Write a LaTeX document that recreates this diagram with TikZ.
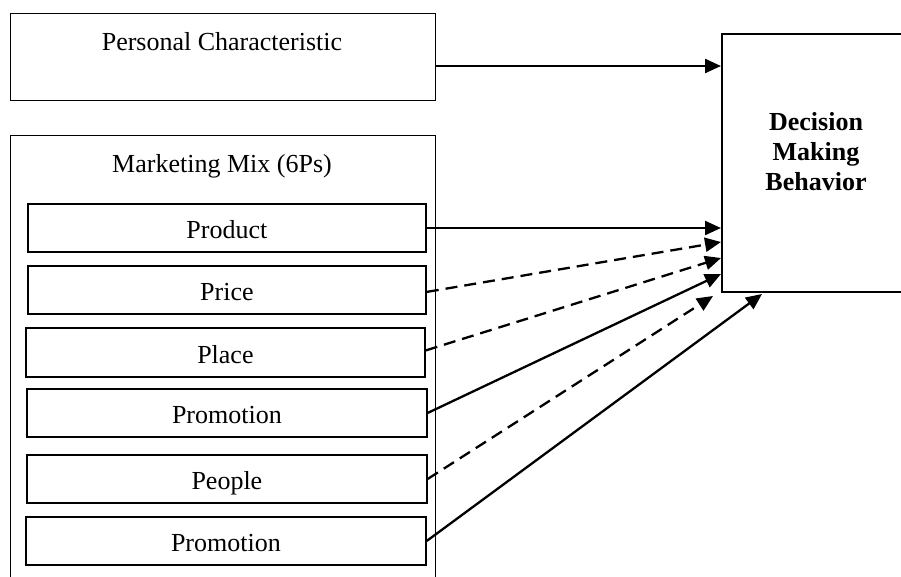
\documentclass[tikz,border=0pt]{standalone}
\usepackage{fontspec}
\setmainfont{Liberation Serif}
\usetikzlibrary{arrows.meta,calc}
\begin{document}
\begin{tikzpicture}[x=1pt,y=-1pt,
  frame/.style={draw, line width=1pt, rectangle, inner sep=0pt, anchor=north west},
  item/.style={draw, line width=1.8pt, rectangle, inner sep=0pt, anchor=north west},
  txt/.style={inner sep=0pt, anchor=base, font=\fontsize{26}{30}\selectfont},
  link/.style={line width=2.3pt, -{Triangle[length=16pt,width=14pt]}},
  dashlink/.style={link, dash pattern=on 12pt off 7pt},
]
\clip (0,0) rectangle (901,576);

% left column: personal characteristics
\node[frame, minimum width=425pt, minimum height=87pt] (personal) at (10,13) {};
\node[txt] (personaltxt) at (222,50) {Personal Characteristic};

% marketing mix container
\node[frame, minimum width=425pt, minimum height=460pt] (mix) at (10,135) {};
\node[txt] (mixtxt) at (222,172) {Marketing Mix (6Ps)};

% the six items
\node[item, minimum width=398pt, minimum height=48pt] (product) at (27,203) {};
\node[txt] at ($(product.center)+(0,11)$) {Product};
\node[item, minimum width=398pt, minimum height=48pt] (price) at (27,265) {};
\node[txt] at ($(price.center)+(0,11)$) {Price};
\node[item, minimum width=399pt, minimum height=49pt] (place) at (25,327) {};
\node[txt] at ($(place.center)+(0,11)$) {Place};
\node[item, minimum width=400pt, minimum height=48pt] (promo) at (26,388) {};
\node[txt] at ($(promo.center)+(0,11)$) {Promotion};
\node[item, minimum width=400pt, minimum height=48pt] (people) at (26,454) {};
\node[txt] at ($(people.center)+(0,11)$) {People};
\node[item, minimum width=400pt, minimum height=48pt] (promob) at (25,516) {};
\node[txt] at ($(promob.center)+(0,11)$) {Promotion};

% outcome box
\node[item, line width=2pt, minimum width=200pt, minimum height=258pt] (decision) at (721,33) {};
\node[inner sep=0pt, align=center, font=\fontsize{26}{30}\bfseries\selectfont] (decisiontxt) at (816,152) {Decision\\Making\\Behavior};

% arrow targets on the outcome box
\coordinate (tPersonal) at (721,66);
\coordinate (tProduct) at (721,228);
\coordinate (tPrice) at (721,242);
\coordinate (tPlace) at (721,258);
\coordinate (tPromo) at (721,274);
\coordinate (tPeople) at (713,296);
\coordinate (tPromob) at (762,294);

% connectors
\draw[link] (personal.east |- tPersonal) -- (tPersonal);
\draw[link] (product.east |- tProduct) -- (tProduct);
\draw[dashlink] ($(price.east)+(0,2)$) -- (tPrice);
\draw[dashlink] ($(place.east)+(0,-2)$) -- (tPlace);
\draw[link] (promo.east) -- (tPromo);
\draw[dashlink] (people.east) -- (tPeople);
\draw[link] (promob.east) -- (tPromob);
\end{tikzpicture}
\end{document}
